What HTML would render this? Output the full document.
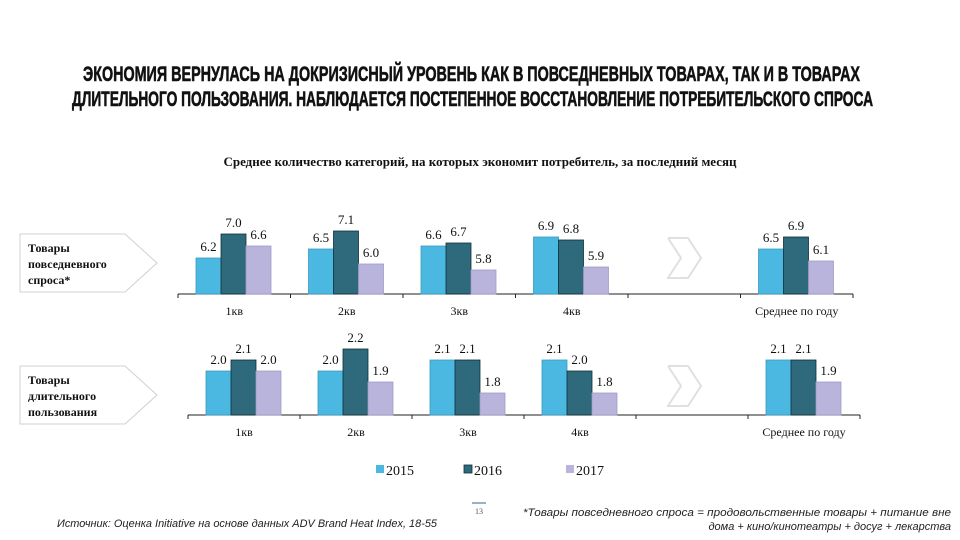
<!DOCTYPE html>
<html><head><meta charset="utf-8"><style>
html,body{margin:0;padding:0;background:#fff;}
svg{display:block;}
</style></head><body>
<svg id="chart" width="960" height="540" viewBox="0 0 960 540" xmlns="http://www.w3.org/2000/svg">
<g font-family="'Liberation Sans Narrow','Liberation Sans',sans-serif" font-weight="bold" fill="#111" font-size="21" stroke="#111" stroke-width="0.6">
<text x="83" y="81" textLength="777" lengthAdjust="spacingAndGlyphs">ЭКОНОМИЯ ВЕРНУЛАСЬ НА ДОКРИЗИСНЫЙ УРОВЕНЬ КАК В ПОВСЕДНЕВНЫХ ТОВАРАХ, ТАК И В ТОВАРАХ</text>
<text x="72" y="106" textLength="801" lengthAdjust="spacingAndGlyphs">ДЛИТЕЛЬНОГО ПОЛЬЗОВАНИЯ. НАБЛЮДАЕТСЯ ПОСТЕПЕННОЕ ВОССТАНОВЛЕНИЕ ПОТРЕБИТЕЛЬСКОГО СПРОСА</text>
</g>
<text x="480" y="166" text-anchor="middle" font-family="'Liberation Serif',serif" font-weight="bold" font-size="13" fill="#111">Среднее количество категорий, на которых экономит потребитель, за последний месяц</text>

<g>
<polygon points="20,234 125,234 157,263 125,292 20,292" fill="#fff" stroke="#d0d0d0"/>
<text font-family="'Liberation Serif',serif" font-weight="bold" font-size="12" fill="#111"><tspan x="28" y="252">Товары</tspan><tspan x="28" y="268">повседневного</tspan><tspan x="28" y="284">спроса*</tspan></text>
</g>
<g>
<polygon points="20,366 125,366 157,395 125,424 20,424" fill="#fff" stroke="#d0d0d0"/>
<text font-family="'Liberation Serif',serif" font-weight="bold" font-size="12" fill="#111"><tspan x="28" y="384">Товары</tspan><tspan x="28" y="400">длительного</tspan><tspan x="28" y="416">пользования</tspan></text>
</g>
<polyline points="668,238 688,238 701,258 688,278 668,278 681,258 668,238" fill="none" stroke="#e0e0e0" stroke-width="2"/>
<polyline points="668,366 688,366 701,386 688,406 668,406 681,386 668,366" fill="none" stroke="#e0e0e0" stroke-width="2"/>

<g id="plots"></g>

<g font-family="'Liberation Serif',serif" font-size="14" fill="#111">
<g><rect x="376" y="465" width="8" height="8" fill="#4ab8e0"/><text x="386" y="475">2015</text></g>
<g><rect x="464" y="465" width="8" height="8" fill="#2f6a7c" stroke="#10303a" stroke-width="0.8"/><text x="474" y="475">2016</text></g>
<g><rect x="566" y="465" width="8" height="8" fill="#b8b4dc"/><text x="576" y="475">2017</text></g>
</g>
<line x1="472" y1="503" x2="486" y2="503" stroke="#2f6a7c"/>
<text x="479" y="514" text-anchor="middle" font-family="'Liberation Serif',serif" font-size="8" fill="#555">13</text>
<text x="57" y="527" font-family="'Liberation Sans Narrow','Liberation Sans',sans-serif" font-style="italic" font-size="11" fill="#222" textLength="380" lengthAdjust="spacingAndGlyphs">Источник: Оценка Initiative на основе данных ADV Brand Heat Index, 18-55</text>
<text x="523" y="516" font-family="'Liberation Sans Narrow','Liberation Sans',sans-serif" font-style="italic" font-size="11" fill="#222" textLength="428" lengthAdjust="spacingAndGlyphs">*Товары повседневного спроса = продовольственные товары + питание вне</text>
<text x="951" y="530" text-anchor="end" font-family="'Liberation Sans Narrow','Liberation Sans',sans-serif" font-style="italic" font-size="11" fill="#222">дома + кино/кинотеатры + досуг + лекарства</text>
</svg>
<script>
const categories = ["1кв","2кв","3кв","4кв","","Среднее  по году"];
const years = ["2015","2016","2017"];
const daily2015 = [6.2,6.5,6.6,6.9,null,6.5];
const daily2016 = [7.0,7.1,6.7,6.8,null,6.9];
const daily2017 = [6.6,6.0,5.8,5.9,null,6.1];
const durable2015 = [2.0,2.0,2.1,2.1,null,2.1];
const durable2016 = [2.1,2.2,2.1,2.0,null,2.1];
const durable2017 = [2.0,1.9,1.8,1.8,null,1.9];
const colors = ["#4ab8e0","#2f6a7c","#b8b4dc"];
const strokes = ["#3a9cc0","#10303a","#a09cc8"];
const NS = "http://www.w3.org/2000/svg";
const root = document.getElementById("plots");
function mk(tag, attrs, parent){const e=document.createElementNS(NS,tag);for(const k in attrs)e.setAttribute(k,attrs[k]);parent.appendChild(e);return e;}
function drawPanel(name, series, x0, x1, axisY, vmin, pxPerUnit){
  const g = mk("g",{},root);
  
  
  const slot = (x1-x0)/categories.length;
  const yScale = v => axisY - (v - vmin)*pxPerUnit;
  const ax = mk("line",{x1:x0,x2:x1,y1:axisY,y2:axisY,stroke:"#222","stroke-width":1},g);
  
  
  for(let i=0;i<=categories.length;i++){
    const t = mk("line",{x1:x0+i*slot,x2:x0+i*slot,y1:axisY,y2:axisY+4,stroke:"#222"},g);
    
    
  }
  categories.forEach((c,i)=>{
    if(c){
      const lt = mk("text",{x:x0+i*slot+slot/2,y:axisY+21,"text-anchor":"middle","font-family":"'Liberation Serif',serif","font-size":"12",fill:"#111"},g);
      lt.textContent = c;
      
      
    }
    series.forEach((s,j)=>{
      const v = s[i]; if(v==null) return;
      const bx = x0+i*slot+18+j*25, by = yScale(v);
      const r = mk("rect",{x:bx,y:by,width:25,height:axisY-by,fill:colors[j],stroke:strokes[j],"stroke-width":0.8},g);
      
      
      const lb = mk("text",{x:bx+12.5,y:by-7,"text-anchor":"middle","font-family":"'Liberation Serif',serif","font-size":"13",fill:"#111"},g);
      lb.textContent = v.toFixed(1);
      
      
    });
  });
}
drawPanel("daily-goods-chart",[daily2015,daily2016,daily2017],178,853,294,5.0,30);
drawPanel("durable-goods-chart",[durable2015,durable2016,durable2017],188,860,415,1.6,110);
</script>
</body></html>
